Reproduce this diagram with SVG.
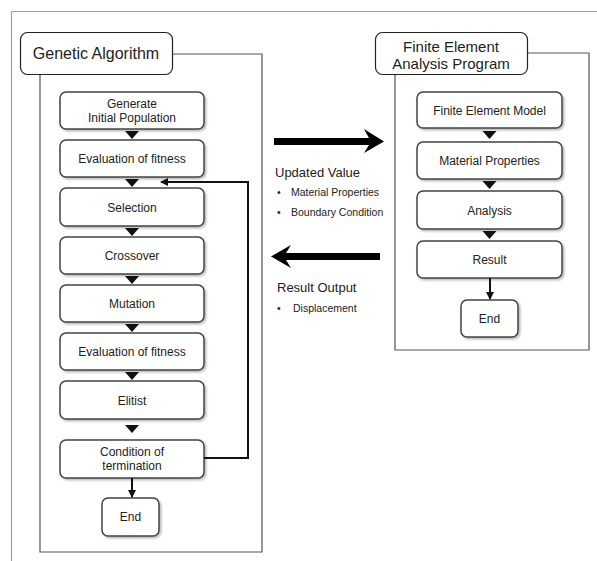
<svg xmlns="http://www.w3.org/2000/svg" width="597" height="561" viewBox="0 0 597 561">
<defs>
<style>
.frame{fill:none;stroke:#a0a0a0;stroke-width:1.2}
.cont{fill:none;stroke:#555;stroke-width:1.2}
.title{fill:#fff;stroke:#222;stroke-width:1.2}
.box{fill:#fff;stroke:#444;stroke-width:1.5;filter:url(#sh)}
.t{font-family:"Liberation Sans",Arial,sans-serif;fill:#222;text-anchor:middle}
.b{font-size:12px}
.h{font-size:16px}
.h2{font-size:15px}
.s{font-family:"Liberation Sans",Arial,sans-serif;fill:#222}
.tri{fill:#111}
.ln{fill:none;stroke:#111;stroke-width:2}
</style>
<filter id="sh" x="-10%" y="-20%" width="130%" height="150%">
<feDropShadow dx="1.5" dy="1.5" stdDeviation="1.2" flood-color="#000" flood-opacity="0.3"/>
</filter>
<marker id="ah" markerWidth="8" markerHeight="8" refX="7" refY="4" orient="auto" markerUnits="userSpaceOnUse">
<path d="M0,0 L8,4 L0,8 Z" fill="#111"/>
</marker>
</defs>
<rect width="597" height="561" fill="#fff"/>
<path class="frame" d="M11.5,561 V11.5 H597"/>

<g id="ga-container">
<path class="cont" d="M172,54 H262 V552 H40 V74"/>
</g>
<g id="ga-title">
<rect class="title" x="20.5" y="32.5" width="152" height="42" rx="7"/>
<text class="t h" x="96" y="59">Genetic Algorithm</text>
</g>

<g id="fea-container">
<path class="cont" d="M527,53 H589 V350 H395 V74"/>
</g>
<g id="fea-title">
<rect class="title" x="375.5" y="32.5" width="152" height="42" rx="7"/>
<text class="t h2" x="451" y="51.5">Finite Element</text>
<text class="t h2" x="451" y="68.5">Analysis Program</text>
</g>

<g id="ga-gen"><rect class="box" x="60" y="92" width="144" height="37" rx="6"/>
<text class="t b" x="132" y="107.5">Generate</text><text class="t b" x="132" y="121.5">Initial Population</text></g>
<g id="ga-eval1"><rect class="box" x="60" y="140" width="144" height="37" rx="6"/>
<text class="t b" x="132" y="163">Evaluation of fitness</text></g>
<g id="ga-sel"><rect class="box" x="60" y="188" width="144" height="38" rx="6"/>
<text class="t b" x="132" y="211.5">Selection</text></g>
<g id="ga-cross"><rect class="box" x="60" y="237" width="144" height="37" rx="6"/>
<text class="t b" x="132" y="260">Crossover</text></g>
<g id="ga-mut"><rect class="box" x="60" y="285" width="144" height="37" rx="6"/>
<text class="t b" x="132" y="308">Mutation</text></g>
<g id="ga-eval2"><rect class="box" x="60" y="333" width="144" height="37" rx="6"/>
<text class="t b" x="132" y="356">Evaluation of fitness</text></g>
<g id="ga-elit"><rect class="box" x="60" y="381" width="144" height="38" rx="6"/>
<text class="t b" x="132" y="404.5">Elitist</text></g>
<g id="ga-cond"><rect class="box" x="60" y="440" width="144" height="38" rx="6"/>
<text class="t b" x="132" y="456">Condition of</text><text class="t b" x="132" y="470">termination</text></g>
<g id="ga-end"><rect class="box" x="102" y="498" width="57" height="38" rx="6"/>
<text class="t b" x="130.5" y="521">End</text></g>

<g id="fea-model"><rect class="box" x="417" y="92" width="145" height="36" rx="6"/>
<text class="t b" x="489.5" y="114.5">Finite Element Model</text></g>
<g id="fea-mat"><rect class="box" x="417" y="142" width="145" height="37" rx="6"/>
<text class="t b" x="489.5" y="165">Material Properties</text></g>
<g id="fea-anal"><rect class="box" x="417" y="191" width="145" height="38" rx="6"/>
<text class="t b" x="489.5" y="214.5">Analysis</text></g>
<g id="fea-res"><rect class="box" x="417" y="241" width="145" height="37" rx="6"/>
<text class="t b" x="489.5" y="264">Result</text></g>
<g id="fea-end"><rect class="box" x="461" y="300" width="57" height="37" rx="6"/>
<text class="t b" x="489.5" y="323">End</text></g>

<g id="connectors">
<polygon class="tri" points="125,131 139,131 132,139"/>
<polygon class="tri" points="125,179 139,179 132,187"/>
<polygon class="tri" points="125,228 139,228 132,236"/>
<polygon class="tri" points="125,276 139,276 132,284"/>
<polygon class="tri" points="125,324 139,324 132,332"/>
<polygon class="tri" points="125,372 139,372 132,380"/>
<polygon class="tri" points="125,425 139,425 132,433"/>
<line class="ln" x1="132" y1="478" x2="132" y2="497" marker-end="url(#ah)"/>
<polyline class="ln" points="204,458 248,458 248,182 161,182" marker-end="url(#ah)"/>
<polygon class="tri" points="482.5,131 496.5,131 489.5,139"/>
<polygon class="tri" points="482.5,181 496.5,181 489.5,189"/>
<polygon class="tri" points="482.5,231 496.5,231 489.5,239"/>
<line class="ln" x1="490" y1="278" x2="490" y2="299" marker-end="url(#ah)"/>
<path fill="#000" d="M274,138 H369 L364,129 L384,141.5 L364,153 L369,145 H274 Z"/>
<path fill="#000" d="M380,253 H286 L291,245 L271,256.5 L291,268 L286,260 H380 Z"/>
</g>

<g id="labels">
<text class="s" x="275" y="177" font-size="13">Updated Value</text>
<text class="s" x="277" y="196" font-size="10.5">•</text>
<text class="s" x="291" y="196" font-size="10.5">Material Properties</text>
<text class="s" x="277" y="216" font-size="10.5">•</text>
<text class="s" x="291" y="216" font-size="10.5">Boundary Condition</text>
<text class="s" x="277" y="292" font-size="13">Result Output</text>
<text class="s" x="277" y="312" font-size="10.5">•</text>
<text class="s" x="293" y="312" font-size="10.5">Displacement</text>
</g>
</svg>
